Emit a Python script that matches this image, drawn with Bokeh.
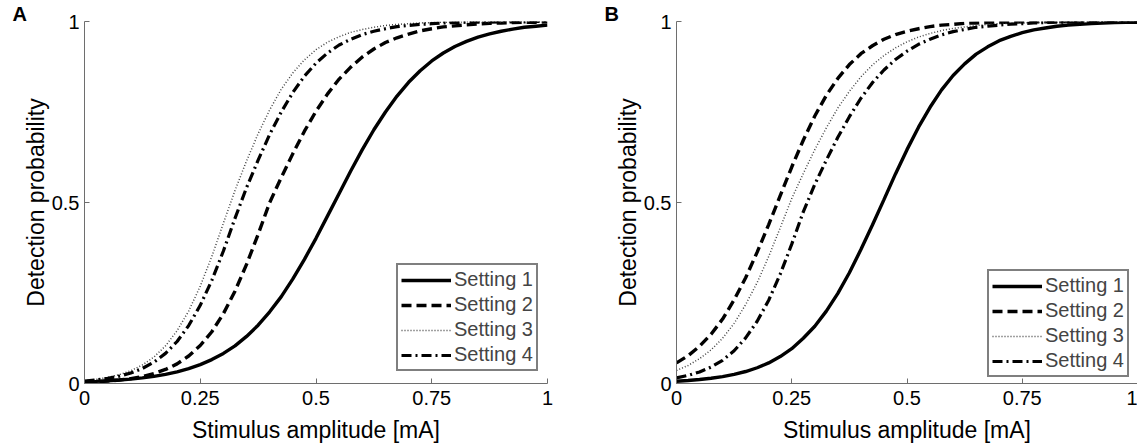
from bokeh.plotting import figure
from bokeh.layouts import row
from bokeh.models import FixedTicker, Legend, LegendItem
from bokeh.embed import file_html
from bokeh.resources import INLINE

# ---- data ----
amplitude = [0.0, 0.025, 0.05, 0.075, 0.1, 0.125, 0.15, 0.175, 0.2, 0.225,
             0.25, 0.275, 0.3, 0.325, 0.35, 0.375, 0.4, 0.425, 0.45, 0.475,
             0.5, 0.525, 0.55, 0.575, 0.6, 0.625, 0.65, 0.675, 0.7, 0.725,
             0.75, 0.775, 0.8, 0.825, 0.85, 0.875, 0.9, 0.925, 0.95, 0.975, 1.0]

a_setting1 = [0.0045, 0.0058, 0.0074, 0.0095, 0.0121, 0.0155, 0.0198, 0.0253, 0.0323, 0.0411,
              0.0522, 0.066, 0.0832, 0.104, 0.130, 0.161, 0.198, 0.24, 0.289, 0.343,
              0.401, 0.463, 0.525, 0.587, 0.646, 0.701, 0.750, 0.794, 0.832, 0.864,
              0.891, 0.913, 0.931, 0.945, 0.957, 0.966, 0.973, 0.979, 0.984, 0.987, 0.990]
a_setting2 = [0.0033, 0.0047, 0.0067, 0.0096, 0.0135, 0.0193, 0.0274, 0.0388, 0.0542, 0.0759,
              0.105, 0.143, 0.193, 0.255, 0.329, 0.412, 0.5, 0.569, 0.635, 0.697,
              0.752, 0.80, 0.841, 0.874, 0.902, 0.924, 0.942, 0.955, 0.965, 0.974,
              0.980, 0.985, 0.988, 0.991, 0.993, 0.995, 0.996, 0.997, 0.998, 0.998, 0.999]
a_setting3 = [0.0078, 0.0114, 0.0166, 0.0244, 0.0353, 0.0511, 0.0731, 0.104, 0.146, 0.20,
              0.269, 0.351, 0.443, 0.533, 0.615, 0.69, 0.756, 0.813, 0.858, 0.894,
              0.922, 0.943, 0.958, 0.970, 0.978, 0.984, 0.989, 0.992, 0.994, 0.996,
              0.997, 0.998, 0.998, 0.999, 0.999, 0.999, 0.999, 1.0, 1.0, 1.0, 1.0]
a_setting4 = [0.0068, 0.0098, 0.014, 0.0202, 0.029, 0.0415, 0.059, 0.0832, 0.116, 0.16,
              0.216, 0.285, 0.366, 0.456, 0.541, 0.617, 0.688, 0.75, 0.804, 0.849,
              0.885, 0.913, 0.935, 0.951, 0.964, 0.973, 0.980, 0.986, 0.989, 0.992,
              0.994, 0.996, 0.997, 0.998, 0.998, 0.998, 0.999, 0.999, 0.999, 1.0, 1.0]

b_setting1 = [0.0062, 0.0082, 0.0109, 0.0144, 0.019, 0.0251, 0.0331, 0.0435, 0.0568, 0.0743,
              0.0963, 0.125, 0.158, 0.20, 0.249, 0.306, 0.370, 0.438, 0.508, 0.579,
              0.646, 0.708, 0.763, 0.811, 0.851, 0.883, 0.910, 0.930, 0.947, 0.959,
              0.969, 0.977, 0.982, 0.987, 0.990, 0.992, 0.994, 0.996, 0.997, 0.998, 0.998]
b_setting2 = [0.057, 0.0766, 0.103, 0.136, 0.178, 0.231, 0.292, 0.363, 0.439, 0.519,
              0.598, 0.672, 0.739, 0.796, 0.843, 0.881, 0.911, 0.933, 0.951, 0.964,
              0.973, 0.980, 0.986, 0.990, 0.992, 0.995, 0.996, 0.997, 0.998, 0.998,
              0.999, 0.999, 0.999, 0.999, 1.0, 1.0, 1.0, 1.0, 1.0, 1.0, 1.0]
b_setting3 = [0.036, 0.0497, 0.0685, 0.0928, 0.125, 0.166, 0.218, 0.279, 0.351, 0.43,
              0.511, 0.58, 0.646, 0.706, 0.761, 0.807, 0.847, 0.88, 0.906, 0.927,
              0.944, 0.957, 0.967, 0.975, 0.981, 0.985, 0.989, 0.992, 0.994, 0.995,
              0.996, 0.997, 0.998, 0.998, 0.999, 0.999, 0.999, 1.0, 1.0, 1.0, 1.0]
b_setting4 = [0.0155, 0.0223, 0.032, 0.0455, 0.064, 0.0904, 0.126, 0.172, 0.23, 0.302,
              0.385, 0.474, 0.55, 0.617, 0.68, 0.737, 0.788, 0.831, 0.866, 0.895,
              0.918, 0.937, 0.951, 0.963, 0.972, 0.978, 0.984, 0.987, 0.990, 0.993,
              0.994, 0.996, 0.997, 0.998, 0.998, 0.998, 0.999, 0.999, 0.999, 1.0, 1.0]

series_names = ["Setting 1", "Setting 2", "Setting 3", "Setting 4"]
x_ticks = [0, 0.25, 0.5, 0.75, 1]
x_tick_labels = ["0", "0.25", "0.5", "0.75", "1"]
y_ticks = [0, 0.5, 1]
y_tick_labels = ["0", "0.5", "1"]
panel_letters = ["A", "B"]
x_label = "Stimulus amplitude [mA]"
y_label = "Detection probability"

# ---- styles ----
FONT = "Liberation Sans"
AXIS_GREY = "#6e6e6e"
styles = [
    dict(line_color="black", line_width=3.4, line_dash="solid"),
    dict(line_color="black", line_width=3.4, line_dash="10 5"),
    dict(line_color="#444444", line_width=1.5, line_dash="1 2"),
    dict(line_color="black", line_width=3.2, line_dash="10 4 2 4"),
]


def make_panel(letter, curves, width, left, right, legend_xy):
    p = figure(width=width, height=448, x_range=(0, 1), y_range=(0, 1),
               output_backend="svg", toolbar_location=None, title=letter,
               min_border_left=left, min_border_right=right,
               min_border_top=21, min_border_bottom=65)
    p.outline_line_color = None
    p.xgrid.visible = False
    p.ygrid.visible = False
    p.background_fill_color = "white"
    p.border_fill_color = "white"

    # panel letter as the title, pushed left of the frame
    p.title.align = "left"
    p.title.offset = -72
    p.title.standoff = -6
    p.title.vertical_align = "bottom"
    p.title.text_font = FONT
    p.title.text_font_size = "20px"
    p.title.text_font_style = "bold"
    p.title.text_color = "black"

    for ax, ticks, labels in ((p.xaxis[0], x_ticks, x_tick_labels),
                              (p.yaxis[0], y_ticks, y_tick_labels)):
        ax.ticker = FixedTicker(ticks=ticks)
        ax.major_label_overrides = {t: l for t, l in zip(ticks, labels)}
        ax.axis_line_color = AXIS_GREY
        ax.major_tick_line_color = AXIS_GREY
        ax.minor_tick_line_color = None
        ax.major_tick_in = 5
        ax.major_tick_out = 0
        ax.major_label_text_font = FONT
        ax.major_label_text_font_size = "20px"
        ax.major_label_text_color = "black"
        ax.axis_label_text_font = FONT
        ax.axis_label_text_font_size = "23px"
        ax.axis_label_text_font_style = "normal"
        ax.axis_label_text_color = "black"

    p.xaxis.axis_label = x_label
    p.yaxis.axis_label = y_label
    p.xaxis.major_label_standoff = 7
    p.xaxis.axis_label_standoff = 9
    p.yaxis.major_label_standoff = 5
    p.yaxis.axis_label_standoff = 0

    items = []
    for name, ys, st in zip(series_names, curves, styles):
        r = p.line(amplitude, ys, **st)
        items.append(LegendItem(label=name, renderers=[r]))

    legend = Legend(items=items, location=legend_xy)
    legend.label_text_font = FONT
    legend.label_text_font_size = "20px"
    legend.label_height = 20
    legend.glyph_height = 20
    legend.glyph_width = 50
    legend.label_standoff = 3
    legend.spacing = 2
    legend.padding = 3
    legend.margin = 0
    legend.border_line_color = "black"
    legend.border_line_width = 2
    legend.background_fill_color = "white"
    legend.background_fill_alpha = 1
    p.add_layout(legend, "center")
    return p


pA = make_panel(panel_letters[0], [a_setting1, a_setting2, a_setting3, a_setting4],
                width=598, left=84, right=51, legend_xy=(312, 12))
pB = make_panel(panel_letters[1], [b_setting1, b_setting2, b_setting3, b_setting4],
                width=539, left=78, right=0, legend_xy=(311, 6))

layout = row(pA, pB)
open("out.html", "w").write(file_html(layout, INLINE))
